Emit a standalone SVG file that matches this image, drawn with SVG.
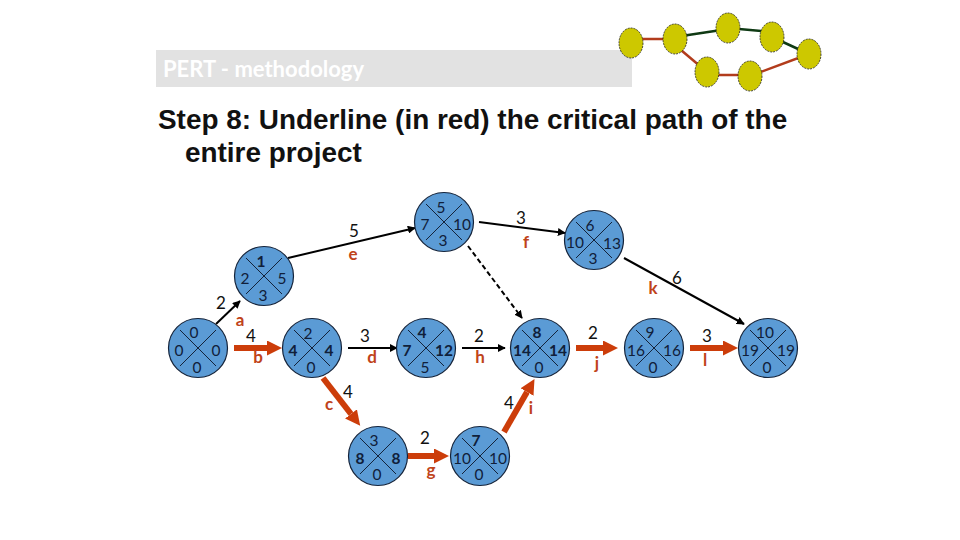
<svg xmlns="http://www.w3.org/2000/svg" width="960" height="540" viewBox="0 0 960 540">
<style>
.n{font:15.5px Lato,"Liberation Sans",sans-serif;fill:#10203a;text-anchor:middle}
.b{font-weight:bold}
.l{font:17px Lato,"Liberation Sans",sans-serif;fill:#111;text-anchor:middle}
.r{font:bold 17px Lato,"Liberation Sans",sans-serif;fill:#c0431a;text-anchor:middle}
.c{fill:#5b9bd5;stroke:#14233a;stroke-width:1.2}
.x{stroke:#14233a;stroke-width:1;fill:none}
.k{stroke:#000;stroke-width:2;fill:none}
.h{stroke:#cc3d0a;stroke-width:6;fill:none}
.y{fill:#cdc800;stroke:#222;stroke-width:.8;stroke-dasharray:2 1}
.ge{stroke:#0f3a14;stroke-width:2.5}
.re{stroke:#b23c1c;stroke-width:2.5}
</style>
<defs>
<marker id="a" viewBox="0 0 10 10" refX="9" refY="5" markerWidth="8" markerHeight="8" markerUnits="userSpaceOnUse" orient="auto"><path d="M0 0L10 5L0 10z" fill="#000"/></marker>
<marker id="b" viewBox="0 0 10 10" refX="0" refY="5" markerWidth="15" markerHeight="15" markerUnits="userSpaceOnUse" orient="auto"><path d="M0 0L10 5L0 10z" fill="#cc3d0a"/></marker>
<g id="nd"><circle class="c" r="29.5"/><path class="x" d="M-18-18L18 18M-18 18L18-18"/></g>
</defs>
<g id="title">
<rect x="156" y="50" width="476" height="37" fill="#e2e2e2"/>
<text x="163" y="77" font-family="Lato,'Liberation Sans',sans-serif" font-size="22" font-weight="bold" fill="#fff" textLength="201">PERT - methodology</text>
<text x="158" y="129" font-family="'Liberation Sans',sans-serif" font-weight="bold" font-size="27.9" fill="#111">Step 8: Underline (in red) the critical path of the</text>
<text x="185" y="162" font-family="'Liberation Sans',sans-serif" font-weight="bold" font-size="27.9" fill="#111">entire project</text>
</g>
<g id="logo">
<path class="re" d="M631 39H675M675 45L707 72M707 75H750M750 76L809 54"/>
<path class="ge" d="M675 37L728 29M728 28L772 32M772 37L809 54"/>
<ellipse class="y" cx="631" cy="43" rx="12" ry="15"/>
<ellipse class="y" cx="675" cy="39" rx="12" ry="15"/>
<ellipse class="y" cx="728" cy="28" rx="12" ry="15"/>
<ellipse class="y" cx="772" cy="37" rx="12" ry="15"/>
<ellipse class="y" cx="809" cy="54" rx="12" ry="15"/>
<ellipse class="y" cx="707" cy="72" rx="12" ry="15"/>
<ellipse class="y" cx="750" cy="76" rx="12" ry="15"/>
</g>
<g id="connectors">
<path class="k" marker-end="url(#a)" d="M216 324L240 301"/>
<path class="k" marker-end="url(#a)" d="M288 258L415 228"/>
<path class="k" marker-end="url(#a)" d="M479 222L565 233"/>
<path class="k" marker-end="url(#a)" stroke-dasharray="5 3" d="M468 246L522 318"/>
<path class="k" marker-end="url(#a)" d="M624 258L744 324"/>
<path class="k" marker-end="url(#a)" d="M348 348H397"/>
<path class="k" marker-end="url(#a)" d="M462 348H505"/>
<path class="h" marker-end="url(#b)" d="M234 348H267"/>
<path class="h" marker-end="url(#b)" d="M576 348H603"/>
<path class="h" marker-end="url(#b)" d="M690 348H723"/>
<path class="h" marker-end="url(#b)" d="M323 378L351 414"/>
<path class="h" marker-end="url(#b)" d="M408 456H434"/>
<path class="h" marker-end="url(#b)" d="M504 432L527 392"/>
</g>
<g id="edge-labels">
<text class="l" x="221" y="309">2</text><text class="r" x="240" y="326">a</text>
<text class="l" x="251" y="342">4</text><text class="r" x="258" y="363">b</text>
<text class="l" x="354" y="237">5</text><text class="r" x="353" y="260">e</text>
<text class="l" x="365" y="342">3</text><text class="r" x="372" y="363">d</text>
<text class="l" x="479" y="342">2</text><text class="r" x="480" y="363">h</text>
<text class="l" x="521" y="224">3</text><text class="r" x="526" y="248">f</text>
<text class="l" x="677" y="284">6</text><text class="r" x="653" y="294">k</text>
<text class="l" x="593" y="339">2</text><text class="r" x="597" y="369">j</text>
<text class="l" x="707" y="342">3</text><text class="r" x="705" y="366">l</text>
<text class="l" x="348" y="398">4</text><text class="r" x="329" y="410">c</text>
<text class="l" x="425" y="444">2</text><text class="r" x="431" y="476">g</text>
<text class="l" x="509" y="409">4</text><text class="r" x="531" y="414">i</text>
</g>
<g id="n0"><use href="#nd" x="198" y="348"/><text class="n" x="194" y="338">0</text><text class="n" x="179" y="356">0</text><text class="n" x="216" y="356">0</text><text class="n" x="197" y="373">0</text></g>
<g id="n1"><use href="#nd" x="264" y="276"/><text class="n b" x="261" y="267">1</text><text class="n" x="245" y="284">2</text><text class="n" x="282" y="284">5</text><text class="n" x="263" y="301">3</text></g>
<g id="n2"><use href="#nd" x="312" y="348"/><text class="n" x="308" y="339">2</text><text class="n b" x="293" y="356">4</text><text class="n b" x="329" y="356">4</text><text class="n" x="311" y="373">0</text></g>
<g id="n3"><use href="#nd" x="444" y="222"/><text class="n" x="441" y="213">5</text><text class="n" x="425" y="230">7</text><text class="n" x="462" y="230">10</text><text class="n" x="443" y="246">3</text></g>
<g id="n4"><use href="#nd" x="426" y="348"/><text class="n b" x="422" y="338">4</text><text class="n b" x="407" y="356">7</text><text class="n b" x="444" y="356">12</text><text class="n" x="425" y="373">5</text></g>
<g id="n5"><use href="#nd" x="594" y="240"/><text class="n" x="590" y="231">6</text><text class="n" x="575" y="248">10</text><text class="n" x="612" y="249">13</text><text class="n" x="593" y="264">3</text></g>
<g id="n6"><use href="#nd" x="540" y="348"/><text class="n b" x="537" y="338">8</text><text class="n b" x="522" y="356">14</text><text class="n b" x="558" y="356">14</text><text class="n" x="539" y="373">0</text></g>
<g id="n7"><use href="#nd" x="654" y="348"/><text class="n" x="650" y="338">9</text><text class="n" x="636" y="356">16</text><text class="n" x="672" y="356">16</text><text class="n" x="653" y="373">0</text></g>
<g id="n8"><use href="#nd" x="768" y="348"/><text class="n" x="765" y="338">10</text><text class="n" x="750" y="356">19</text><text class="n" x="786" y="356">19</text><text class="n" x="767" y="373">0</text></g>
<g id="n9"><use href="#nd" x="378" y="456"/><text class="n" x="374" y="446">3</text><text class="n b" x="360" y="464">8</text><text class="n b" x="396" y="464">8</text><text class="n" x="377" y="480">0</text></g>
<g id="n10"><use href="#nd" x="480" y="456"/><text class="n b" x="476" y="446">7</text><text class="n" x="462" y="464">10</text><text class="n" x="498" y="464">10</text><text class="n" x="479" y="480">0</text></g>
</svg>
